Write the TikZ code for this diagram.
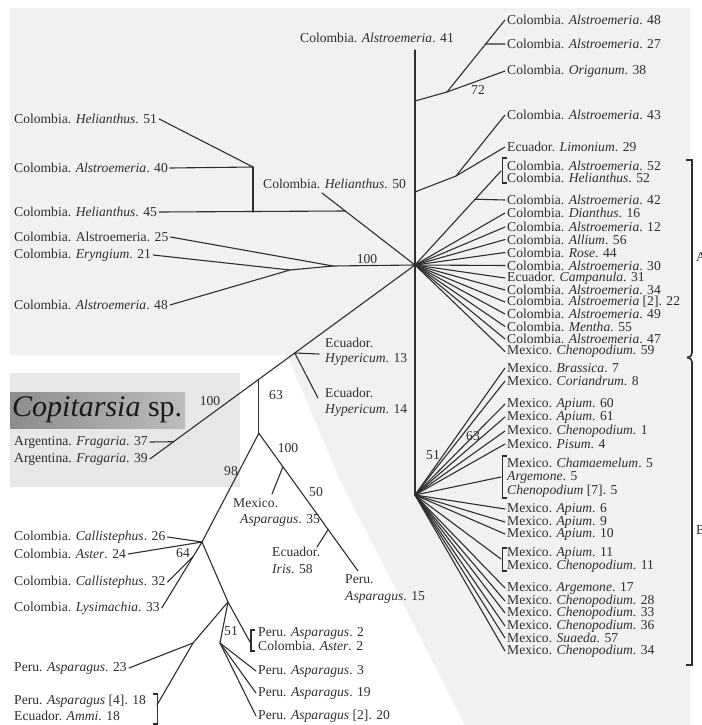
\documentclass[tikz,border=0pt]{standalone}
\usepackage{fontspec}
\setmainfont{Liberation Serif}
\usetikzlibrary{calc}
\definecolor{bgc}{gray}{0.945}
\definecolor{copc}{gray}{0.905}
\definecolor{inkc}{gray}{0.18}
\begin{document}
\begin{tikzpicture}[x=1pt,y=-1pt,
  lab/.style={font=\fontsize{13.6}{14}\selectfont, inner sep=0pt, anchor=west, text=inkc},
  bs/.style={font=\fontsize{13.6}{14}\selectfont, inner sep=0pt, text=inkc},
  tree/.style={line width=1.1pt, draw=inkc, line cap=round},
  brk/.style={line width=1.9pt, draw=inkc},
  bigbrk/.style={line width=1.6pt, draw=inkc}]
\useasboundingbox (0,0) rectangle (701,725);
% backgrounds
\fill[bgc] (10,8) -- (690,8) -- (690,725) -- (465,725) -- (340,480) -- (287,355) -- (10,355) -- cycle;
\fill[copc] (10,373) rectangle (240,487);
\shade[left color=black!45, right color=black!26] (10,392) rectangle (185,428);
\node[inner sep=0pt, anchor=west, font=\fontsize{30}{32}\selectfont, text=black!90] (cop) at (12,410) {\textit{Copitarsia} sp.};

% ---------- right labels, clade A ----------
\node[lab] (c48) at (507,20) {Colombia. \textit{Alstroemeria}. 48};
\node[lab] (c27) at (507,44) {Colombia. \textit{Alstroemeria}. 27};
\node[lab] (o38) at (507,71) {Colombia. \textit{Origanum}. 38};
\node[lab] (c43) at (507,115) {Colombia. \textit{Alstroemeria}. 43};
\node[lab] (l29) at (507,147) {Ecuador. \textit{Limonium}. 29};
\node[lab] (c52) at (507,166) {Colombia. \textit{Alstroemeria}. 52};
\node[lab] (h52) at (507,178) {Colombia. \textit{Helianthus}. 52};
\node[lab] (c42) at (507,200) {Colombia. \textit{Alstroemeria}. 42};
\node[lab] (d16) at (507,213) {Colombia. \textit{Dianthus}. 16};
\node[lab] (c12) at (507,227) {Colombia. \textit{Alstroemeria}. 12};
\node[lab] (al56) at (507,239.5) {Colombia. \textit{Allium}. 56};
\node[lab] (r44) at (507,252.5) {Colombia. \textit{Rose}. 44};
\node[lab] (c30) at (507,265.5) {Colombia. \textit{Alstroemeria}. 30};
\node[lab] (e31) at (507,278) {Ecuador. \textit{Campanula}. 31};
\node[lab] (c34) at (507,290) {Colombia. \textit{Alstroemeria}. 34};
\node[lab] (c22) at (507,302) {Colombia. \textit{Alstroemeria} [2]. 22};
\node[lab] (c49) at (507,314) {Colombia. \textit{Alstroemeria}. 49};
\node[lab] (m55) at (507,326.5) {Colombia. \textit{Mentha}. 55};
\node[lab] (c47) at (507,339) {Colombia. \textit{Alstroemeria}. 47};
\node[lab] (m59) at (507,351.5) {Mexico. \textit{Chenopodium}. 59};

% ---------- right labels, clade B ----------
\node[lab] (b7) at (507,368) {Mexico. \textit{Brassica}. 7};
\node[lab] (co8) at (507,381) {Mexico. \textit{Coriandrum}. 8};
\node[lab] (a60) at (507,404) {Mexico. \textit{Apium}. 60};
\node[lab] (a61) at (507,417) {Mexico. \textit{Apium}. 61};
\node[lab] (ch1) at (507,431) {Mexico. \textit{Chenopodium}. 1};
\node[lab] (p4) at (507,444) {Mexico. \textit{Pisum}. 4};
\node[lab] (cm5) at (507,463) {Mexico. \textit{Chamaemelum}. 5};
\node[lab] (ar5) at (507,477) {\textit{Argemone}. 5};
\node[lab] (ch5) at (507,491) {\textit{Chenopodium} [7]. 5};
\node[lab] (a6) at (507,509) {Mexico. \textit{Apium}. 6};
\node[lab] (a9) at (507,522) {Mexico. \textit{Apium}. 9};
\node[lab] (a10) at (507,534) {Mexico. \textit{Apium}. 10};
\node[lab] (a11) at (507,553) {Mexico. \textit{Apium}. 11};
\node[lab] (ch11) at (507,566) {Mexico. \textit{Chenopodium}. 11};
\node[lab] (ar17) at (507,588) {Mexico. \textit{Argemone}. 17};
\node[lab] (ch28) at (507,601) {Mexico. \textit{Chenopodium}. 28};
\node[lab] (ch33) at (507,613) {Mexico. \textit{Chenopodium}. 33};
\node[lab] (ch36) at (507,626) {Mexico. \textit{Chenopodium}. 36};
\node[lab] (s57) at (507,638) {Mexico. \textit{Suaeda}. 57};
\node[lab] (ch34) at (507,651) {Mexico. \textit{Chenopodium}. 34};

\node[lab] (lA) at (696,257) {A};
\node[lab] (lB) at (696,530) {B};

% ---------- left labels ----------
\node[lab] (a41) at (300,38) {Colombia. \textit{Alstroemeria}. 41};
\node[lab] (h50) at (263,184) {Colombia. \textit{Helianthus}. 50};
\node[lab] (h51) at (14,119) {Colombia. \textit{Helianthus}. 51};
\node[lab] (a40) at (14,168) {Colombia. \textit{Alstroemeria}. 40};
\node[lab] (h45) at (14,212) {Colombia. \textit{Helianthus}. 45};
\node[lab] (a25) at (14,237) {Colombia. Alstroemeria. 25};
\node[lab] (e21) at (14,255) {Colombia. \textit{Eryngium}. 21};
\node[lab] (a48) at (14,305) {Colombia. \textit{Alstroemeria}. 48};
\node[lab] (hy13a) at (325,343) {Ecuador.};
\node[lab] (hy13) at (325,359) {\textit{Hypericum}. 13};
\node[lab] (hy14a) at (325,393) {Ecuador.};
\node[lab] (hy14) at (325,410) {\textit{Hypericum}. 14};
\node[lab] (f37) at (14,442) {Argentina. \textit{Fragaria}. 37};
\node[lab] (f39) at (14,459) {Argentina. \textit{Fragaria}. 39};
\node[lab] (mx35a) at (233,503) {Mexico.};
\node[lab] (mx35) at (240,520) {\textit{Asparagus}. 35};
\node[lab] (ir58a) at (272,552) {Ecuador.};
\node[lab] (ir58) at (272,569) {\textit{Iris}. 58};
\node[lab] (pe15a) at (345,579) {Peru.};
\node[lab] (pe15) at (345,597) {\textit{Asparagus}. 15};
\node[lab] (c26) at (14,537) {Colombia. \textit{Callistephus}. 26};
\node[lab] (a24) at (14,554) {Colombia. \textit{Aster}. 24};
\node[lab] (c32) at (14,582) {Colombia. \textit{Callistephus}. 32};
\node[lab] (l33) at (14,608) {Colombia. \textit{Lysimachia}. 33};
\node[lab] (p23) at (14,668) {Peru. \textit{Asparagus}. 23};
\node[lab] (p18) at (14,701) {Peru. \textit{Asparagus} [4]. 18};
\node[lab] (am18) at (14,716) {Ecuador. \textit{Ammi}. 18};
\node[lab] (p2) at (258,633) {Peru. \textit{Asparagus}. 2};
\node[lab] (ca2) at (258,646) {Colombia. \textit{Aster}. 2};
\node[lab] (p3) at (258,671) {Peru. \textit{Asparagus}. 3};
\node[lab] (p19) at (258,693) {Peru. \textit{Asparagus}. 19};
\node[lab] (p20) at (258,716) {Peru. \textit{Asparagus} [2]. 20};

% ---------- bootstrap values ----------
\node[bs] (s72) at (478,90) {72};
\node[bs] (s100a) at (367,259) {100};
\node[bs] (s100b) at (210,401) {100};
\node[bs] (s63) at (276,395) {63};
\node[bs] (s100c) at (288,448) {100};
\node[bs] (s98) at (231,471) {98};
\node[bs] (s50) at (316,492) {50};
\node[bs] (s64) at (183,553) {64};
\node[bs] (s51) at (231,631) {51};
\node[bs] (s51m) at (433,455) {51};
\node[bs] (s63m) at (473,436) {63};

% ---------- tree: main axis ----------
\coordinate (hA) at (415,265);
\coordinate (hB) at (415,495);
\coordinate (vtop) at (415,50);
\draw[tree] (vtop) -- (hB);

% top-right clades
\coordinate (j72) at (415,101);
\coordinate (n72) at (447,92);
\coordinate (e48) at ([xshift=-2pt]c48.west);
\draw[tree] (j72) -- (n72) -- ([xshift=-2pt]o38.west);
\draw[tree] (n72) -- (e48);
\coordinate (n27) at ($(n72)!0.667!(e48)$);
\draw[tree] (n27) -- ([xshift=-2pt]c27.west);
\coordinate (j43) at (415,192);
\coordinate (n43) at (456,176);
\draw[tree] (j43) -- (n43) -- ([xshift=-2pt]c43.west);
\draw[tree] (n43) -- ([xshift=-2pt]l29.west);

% clade A fan
\draw[brk] (506.5,158) -- (502.5,158) -- (502.5,183) -- (506.5,183);
\coordinate (b52) at (501,171);
\draw[tree] (hA) -- (b52);
\coordinate (n42) at ($(hA)!0.70!(b52)$);
\draw[tree] (n42) -- ([xshift=-2pt]c42.west);
\foreach \n in {d16,c12,al56,r44,c30,e31,c34,c22,c49,m55,c47,m59}
  \draw[tree] (hA) -- ([xshift=-2pt]\n.west);

% clade B fan
\foreach \n in {b7,co8,a60,a61,ch1,p4,a6,a9,a10,ar17,ch28,ch33,ch36,s57,ch34}
  \draw[tree] (hB) -- ([xshift=-2pt]\n.west);
\draw[brk] (506.5,456) -- (502.5,456) -- (502.5,498) -- (506.5,498);
\coordinate (bCm) at (501,477);
\draw[tree] (hB) -- (bCm);
\draw[brk] (506.5,548) -- (502.5,548) -- (502.5,571) -- (506.5,571);
\coordinate (bAp) at (501,559);
\draw[tree] (hB) -- (bAp);

% big brackets
\draw[bigbrk] (686,160) -- (692,160) -- (692,353) .. controls (692,356) and (690,357.5) .. (687,357.5);
\draw[bigbrk] (687,357.5) .. controls (690,357.5) and (692,359) .. (692,362) -- (692,665) -- (686,665);

% left-top clades
\coordinate (n51) at (253,167);
\draw[tree] ([xshift=2pt]h51.east) -- (n51);
\draw[tree] ([xshift=2pt]a40.east) -- (n51);
\coordinate (n45) at (253,212);
\draw[tree] (n51) -- (n45);
\coordinate (h50s) at (322,193);
\draw[tree] (h50s) -- (hA);
\coordinate (n50) at ($(h50s)!0.25!(hA)$);
\draw[tree] ([xshift=2pt]h45.east) -- (n50);
\coordinate (n100) at (333,266);
\coordinate (nEr) at (290,270);
\draw[tree] ([xshift=2pt]a25.east) -- (n100) -- (hA);
\draw[tree] ([xshift=2pt]e21.east) -- (nEr) -- (n100);
\draw[tree] ([xshift=2pt]a48.east) -- (nEr);

% Hypericum / Copitarsia axis
\coordinate (fEnd) at ([xshift=2pt]f39.east);
\draw[tree] (hA) -- (fEnd);
\coordinate (nHy) at ($(hA)!0.4535!(fEnd)$);
\coordinate (n63) at ($(hA)!0.589!(fEnd)$);
\coordinate (nF37) at ($(hA)!0.911!(fEnd)$);
\coordinate (hy13e) at (319,354);
\coordinate (hy14e) at (318,398);
\draw[tree] (nHy) -- (hy13e);
\draw[tree] (nHy) -- (hy14e);
\draw[tree] ([xshift=2pt]f37.east) -- (nF37);
\coordinate (nS) at ($(n63)+(0,54)$);
\draw[tree] (n63) -- (nS);

% 100 branch
\coordinate (e15) at (358,571);
\draw[tree] (nS) -- (e15);
\coordinate (nM35) at ($(nS)!0.243!(e15)$);
\coordinate (nIr) at ($(nS)!0.699!(e15)$);
\coordinate (e35) at (272,494);
\coordinate (e58) at (317,547);
\draw[tree] (nM35) -- (e35);
\draw[tree] (nIr) -- (e58);

% 98 branch
\coordinate (n98) at (202,542);
\draw[tree] (nS) -- (n98);
\draw[tree] ([xshift=2pt]c26.east) -- (n98);
\draw[tree] ([xshift=2pt]a24.east) -- (n98);
\coordinate (e33) at ([xshift=2pt]l33.east);
\draw[tree] (n98) -- (e33);
\coordinate (n64) at ($(n98)!0.22!(e33)$);
\draw[tree] (n64) -- ([xshift=2pt]c32.east);
\coordinate (n2) at (228,602);
\coordinate (b2) at (250,642);
\draw[tree] (n98) -- (n2) -- (b2);
\draw[brk] (255,630) -- (251,630) -- (251,651) -- (255,651);
\coordinate (n23) at (193,643);
\coordinate (b18) at (157,705);
\draw[tree] (n2) -- (n23) -- ([xshift=2pt]p23.east);
\draw[tree] (n23) -- (b18);
\draw[brk] (153,694) -- (157.5,694) -- (157.5,724) -- (153,724);
\coordinate (n51b) at (220,643);
\draw[tree] (n2) -- (n51b);
\foreach \n in {p3,p19,p20}
  \draw[tree] (n51b) -- ([xshift=-2pt]\n.west);
\end{tikzpicture}
\end{document}
